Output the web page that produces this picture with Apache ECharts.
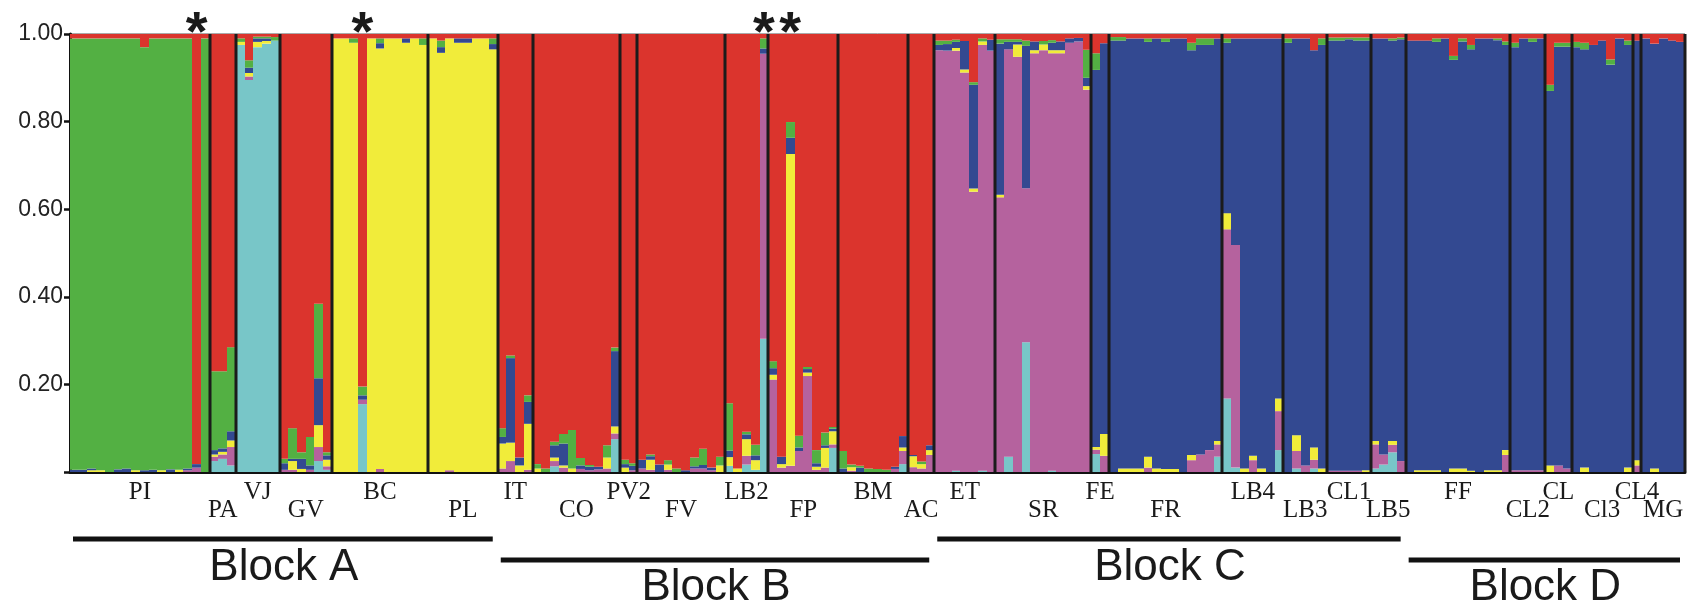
<!DOCTYPE html>
<html><head><meta charset="utf-8">
<script src="https://cdn.jsdelivr.net/npm/echarts@6/dist/echarts.min.js"></script>
<style>html,body{margin:0;padding:0;background:#fff}#c{width:1701px;height:611px}</style>
</head><body><div id="c"></div>
<script>
// ---------------- DATA ----------------
const populations = ['PI','PA','VJ','GV','BC','PL','IT','CO','PV2','FV','LB2','FP','BM','AC',
  'ET','SR','FE','FR','LB4','LB3','CL1','LB5','FF','CL2','CL','Cl3','CL4','MG'];
const popSizes = [16,3,5,6,11,8,4,10,2,10,5,8,8,3,7,11,2,13,7,5,5,4,12,4,3,7,1,5];
const blockNames = ['Block A','Block B','Block C','Block D'];
const blockFirstPop = [0,6,14,22];
const blockLastPop = [5,13,21,27];
const asteriskIndividuals = [14,33,79,82];
const yTickValues = [0.2,0.4,0.6,0.8,1.0];

// Cluster membership per individual (stack order bottom -> top)
const cyan = [
 /*PI*/0,0,0,0,0,0,0,0,0,0,0,0,0,0,0,0,
 /*PA*/0.025,0.03,0.015,
 /*VJ*/0.975,0.895,0.97,0.978,0.985,
 /*GV*/0,0,0,0,0.025,0.005,
 /*BC*/0,0,0,0.155,0,0,0,0,0,0,0,
 /*PL*/0,0,0,0,0,0,0,0,
 /*IT*/0,0,0,0,
 /*CO*/0,0,0.013,0,0,0,0,0,0,0.075,
 /*PV2*/0,0,
 /*FV*/0,0,0,0,0,0,0,0,0,0,
 /*LB2*/0.014,0,0.017,0.005,0.304,
 /*FP*/0,0,0,0,0,0,0,0.055,
 /*BM*/0,0,0,0,0,0,0,0.018,
 /*AC*/0,0,0,
 /*ET*/0,0,0.003,0,0,0.003,0,
 /*SR*/0,0.035,0,0.296,0,0,0.003,0,0,0,0,
 /*FE*/0.041,0,
 /*FR*/0,0,0,0,0,0,0,0,0,0,0,0,0.035,
 /*LB4*/0.168,0.01,0,0,0,0,0.05,
 /*LB3*/0,0.008,0,0.008,0,
 /*CL1*/0,0,0,0,0,
 /*LB5*/0.008,0.017,0.045,0,
 /*FF*/0,0,0,0,0,0,0,0,0,0,0,0,
 /*CL2*/0,0,0,0,
 /*CL*/0,0,0,
 /*Cl3*/0,0,0,0,0,0,0,
 /*CL4*/0,
 /*MG*/0,0,0,0,0];
const purple = [
 /*PI*/0,0,0,0,0,0,0,0,0,0,0,0,0,0.004,0.01,0,
 /*PA*/0.01,0.01,0.042,
 /*VJ*/0,0.008,0,0,0,
 /*GV*/0.005,0.005,0,0.005,0.032,0.008,
 /*BC*/0,0,0,0.01,0,0.007,0,0,0,0,0,
 /*PL*/0,0,0.004,0,0,0,0,0,
 /*IT*/0.008,0.025,0,0.005,
 /*CO*/0,0,0.012,0.01,0,0.007,0.004,0.006,0.008,0.013,
 /*PV2*/0,0.004,
 /*FV*/0.008,0.005,0,0.005,0,0,0.008,0.008,0.004,0,
 /*LB2*/0,0,0.02,0,0.651,
 /*FP*/0.211,0.01,0.014,0.048,0.219,0.005,0.01,0.008,
 /*BM*/0,0.003,0,0,0,0,0.007,0.03,
 /*AC*/0.011,0.008,0.039,
 /*ET*/0.963,0.962,0.959,0.912,0.64,0.972,0.962,
 /*SR*/0.627,0.93,0.948,0.352,0.956,0.963,0.953,0.956,0.98,0.983,0.873,
 /*FE*/0.01,0.037,
 /*FR*/0,0,0,0,0.01,0,0,0,0,0.027,0.04,0.05,0.028,
 /*LB4*/0.386,0.508,0,0.027,0,0,0.089,
 /*LB3*/0,0.04,0.015,0.02,0,
 /*CL1*/0.003,0.003,0.003,0.003,0,
 /*LB5*/0.055,0.023,0.017,0.025,
 /*FF*/0,0,0,0,0,0,0,0,0,0,0,0.039,
 /*CL2*/0.004,0.004,0.004,0.004,
 /*CL*/0,0.015,0.008,
 /*Cl3*/0,0,0,0,0,0,0,
 /*CL4*/0.015,
 /*MG*/0,0,0,0,0];
const yellow = [
 /*PI*/0,0,0.004,0.004,0,0,0,0.004,0,0,0.004,0,0.005,0,0,0,
 /*PA*/0.005,0.006,0.015,
 /*VJ*/0.007,0.008,0.012,0.006,0,
 /*GV*/0,0.02,0.007,0,0.05,0.015,
 /*BC*/0.99,0.99,0.98,0,0.99,0.96,0.99,0.99,0.98,0.99,0.975,
 /*PL*/0.99,0.957,0.986,0.98,0.98,0.99,0.99,0.965,
 /*IT*/0.057,0.042,0.015,0.105,
 /*CO*/0.008,0,0.008,0.005,0.008,0,0,0,0.025,0.016,
 /*PV2*/0.01,0,
 /*FV*/0,0.023,0,0.012,0,0,0,0,0,0.015,
 /*LB2*/0.02,0.008,0.038,0.022,0,
 /*FP*/0.011,0.008,0.712,0,0.008,0.007,0.045,0.03,
 /*BM*/0,0.008,0,0,0,0,0,0.008,
 /*AC*/0.025,0.01,0.011,
 /*ET*/0,0,0.006,0.007,0.007,0.008,0,
 /*SR*/0.006,0,0.028,0,0.007,0.013,0.007,0.007,0,0,0.008,
 /*FE*/0.006,0.05,
 /*FR*/0,0.008,0.008,0.008,0.025,0.008,0.007,0.007,0,0.012,0,0,0.008,
 /*LB4*/0.037,0,0.008,0.01,0.008,0,0.029,
 /*LB3*/0,0.036,0,0.028,0.008,
 /*CL1*/0,0,0,0,0.004,
 /*LB5*/0.008,0,0.009,0,
 /*FF*/0,0.004,0.004,0.004,0,0.008,0.008,0.003,0,0.004,0.004,0.011,
 /*CL2*/0,0,0,0,
 /*CL*/0.015,0,0,
 /*Cl3*/0,0.01,0,0,0,0,0.01,
 /*CL4*/0.012,
 /*MG*/0,0.008,0,0,0];
const blue = [
 /*PI*/0.005,0.005,0.004,0,0,0.006,0.008,0,0.004,0.005,0,0.006,0,0.004,0.008,0,
 /*PA*/0.01,0.008,0.021,
 /*VJ*/0,0.012,0.008,0.006,0,
 /*GV*/0.015,0.005,0.023,0.01,0.107,0.01,
 /*BC*/0,0,0,0.01,0,0.012,0,0,0.01,0,0,
 /*PL*/0,0.013,0,0.01,0.01,0,0,0.012,
 /*IT*/0.015,0.193,0.018,0.05,
 /*CO*/0,0,0.028,0.05,0,0.008,0.008,0.006,0,0.172,
 /*PV2*/0.008,0.01,
 /*FV*/0.02,0.008,0.017,0,0,0.004,0.005,0.008,0.006,0,
 /*LB2*/0.015,0,0.011,0.011,0.012,
 /*FP*/0.015,0.017,0.037,0.008,0.008,0.008,0.006,0.006,
 /*BM*/0.008,0,0.01,0,0,0,0.005,0.026,
 /*AC*/0.003,0,0.011,
 /*ET*/0.012,0.015,0.014,0.065,0.237,0,0.025,
 /*SR*/0.345,0.017,0.006,0.325,0.02,0,0.017,0.02,0.01,0.008,0.019,
 /*FE*/0.861,0.892,
 /*FR*/0.985,0.977,0.982,0.982,0.947,0.982,0.975,0.983,0.99,0.924,0.935,0.925,0.919,
 /*LB4*/0.389,0.472,0.982,0.953,0.982,0.99,0.822,
 /*LB3*/0.98,0.906,0.975,0.907,0.967,
 /*CL1*/0.982,0.982,0.985,0.982,0.981,
 /*LB5*/0.919,0.95,0.914,0.963,
 /*FF*/0.985,0.981,0.981,0.978,0.99,0.933,0.975,0.962,0.99,0.986,0.982,0.925,
 /*CL2*/0.966,0.986,0.978,0.986,
 /*CL*/0.855,0.956,0.963,
 /*Cl3*/0.97,0.955,0.975,0.985,0.93,0.99,0.965,
 /*CL4*/0.958,
 /*MG*/0.99,0.97,0.99,0.985,0.982];
const green = [
 /*PI*/0.985,0.985,0.982,0.986,0.99,0.984,0.982,0.986,0.966,0.985,0.986,0.984,0.985,0.982,0,0.99,
 /*PA*/0.18,0.176,0.192,
 /*VJ*/0.008,0.017,0.004,0.004,0.008,
 /*GV*/0.01,0.07,0.015,0.065,0.17,0.007,
 /*BC*/0,0,0.01,0.02,0,0.011,0,0,0,0,0.015,
 /*PL*/0,0.015,0,0,0,0,0,0.013,
 /*IT*/0.02,0.006,0,0.015,
 /*CO*/0.01,0.008,0.008,0.022,0.088,0.017,0.004,0,0.028,0.008,
 /*PV2*/0.01,0.006,
 /*FV*/0,0.004,0,0.01,0.008,0,0.02,0.037,0,0.02,
 /*LB2*/0.108,0,0.006,0.024,0.023,
 /*FP*/0.016,0,0.036,0.027,0.005,0.03,0.029,0.004,
 /*BM*/0.04,0.006,0.004,0.008,0.007,0.005,0,0,
 /*AC*/0,0.006,0,
 /*ET*/0.01,0.008,0.005,0,0.006,0.007,0,
 /*SR*/0.01,0.006,0.006,0.012,0,0.008,0.006,0,0,0,0.064,
 /*FE*/0.038,0,
 /*FR*/0.008,0.008,0,0,0.008,0,0.008,0,0,0.017,0.015,0.015,0,
 /*LB4*/0.01,0,0,0,0,0,0,
 /*LB3*/0.01,0,0,0,0.015,
 /*CL1*/0.007,0.007,0.004,0.007,0.007,
 /*LB5*/0,0,0.005,0.004,
 /*FF*/0,0,0,0.008,0,0.009,0.007,0.01,0,0,0.004,0.008,
 /*CL2*/0.01,0,0.008,0,
 /*CL*/0.014,0.009,0.009,
 /*Cl3*/0.012,0.015,0,0,0.012,0,0.01,
 /*CL4*/0,
 /*MG*/0,0,0,0,0];
const red = [
 /*PI*/0.01,0.01,0.01,0.01,0.01,0.01,0.01,0.01,0.03,0.01,0.01,0.01,0.01,0.01,0.982,0.01,
 /*PA*/0.77,0.77,0.715,
 /*VJ*/0.01,0.06,0.006,0.006,0.007,
 /*GV*/0.97,0.9,0.955,0.92,0.616,0.955,
 /*BC*/0.01,0.01,0.01,0.805,0.01,0.01,0.01,0.01,0.01,0.01,0.01,
 /*PL*/0.01,0.015,0.01,0.01,0.01,0.01,0.01,0.01,
 /*IT*/0.9,0.734,0.967,0.825,
 /*CO*/0.982,0.992,0.931,0.913,0.904,0.968,0.984,0.988,0.939,0.716,
 /*PV2*/0.972,0.98,
 /*FV*/0.972,0.96,0.983,0.973,0.992,0.996,0.967,0.947,0.99,0.965,
 /*LB2*/0.843,0.992,0.908,0.938,0.01,
 /*FP*/0.747,0.965,0.201,0.917,0.76,0.95,0.91,0.897,
 /*BM*/0.952,0.983,0.986,0.992,0.993,0.995,0.988,0.918,
 /*AC*/0.961,0.976,0.939,
 /*ET*/0.015,0.015,0.013,0.016,0.11,0.01,0.013,
 /*SR*/0.012,0.012,0.012,0.015,0.017,0.016,0.014,0.017,0.01,0.009,0.036,
 /*FE*/0.044,0.021,
 /*FR*/0.007,0.007,0.01,0.01,0.01,0.01,0.01,0.01,0.01,0.02,0.01,0.01,0.01,
 /*LB4*/0.01,0.01,0.01,0.01,0.01,0.01,0.01,
 /*LB3*/0.01,0.01,0.01,0.037,0.01,
 /*CL1*/0.008,0.008,0.008,0.008,0.008,
 /*LB5*/0.01,0.01,0.01,0.008,
 /*FF*/0.015,0.015,0.015,0.01,0.01,0.05,0.01,0.025,0.01,0.01,0.01,0.017,
 /*CL2*/0.02,0.01,0.01,0.01,
 /*CL*/0.116,0.02,0.02,
 /*Cl3*/0.018,0.02,0.025,0.015,0.058,0.01,0.015,
 /*CL4*/0.015,
 /*MG*/0.01,0.022,0.01,0.015,0.018];

// ---------------- LAYOUT / STYLE ----------------
const clusters = [
  {name:'K1', values:cyan,   color:'#78C6C8'},
  {name:'K2', values:purple, color:'#B5629E'},
  {name:'K3', values:yellow, color:'#F1EC3A'},
  {name:'K4', values:blue,   color:'#334991'},
  {name:'K5', values:green,  color:'#53B043'},
  {name:'K6', values:red,    color:'#DB342D'}
];
const N = popSizes.reduce((a,b)=>a+b,0);
const popStart = [];
let acc = 0;
popSizes.forEach(s => { popStart.push(acc); acc += s; });
const popEnd = popStart.map((s,i)=>s+popSizes[i]);

const chart = echarts.init(document.getElementById('c'), null, {renderer:'canvas'});

// stacked membership bars (one custom series per cluster, stacked in the fixed order above)
const barSeries = clusters.map((c, k) => ({
  type:'custom', name:c.name, xAxisIndex:0, yAxisIndex:0, z:2, silent:true,
  data:c.values.map((v,i)=>[i, v]),
  renderItem:(params, api) => {
    const i = api.value(0), v = api.value(1);
    if (!(v > 0)) return null;
    let base = 0;
    for (let j = 0; j < k; j++) base += clusters[j].values[i];
    const top = Math.min(base + v, 1);
    const xa = Math.round(api.coord([i, 0])[0]);
    const xb = Math.round(api.coord([i + 1, 0])[0]);
    const ya = api.coord([i, base])[1];
    const yb = api.coord([i, top])[1];
    return {type:'rect', shape:{x:xa, y:yb, width:xb - xa, height:ya - yb},
      style:{fill:c.color}};
  }
}));

const sepSeries = {
  type:'custom', xAxisIndex:0, yAxisIndex:0, z:5, clip:false, silent:true,
  data: popEnd.map(b => [b, 1]),
  renderItem:(params, api) => {
    const p0 = api.coord([api.value(0), 0]);
    const p1 = api.coord([api.value(0), 1]);
    const x = Math.round(p0[0]);
    return {type:'line', shape:{x1:x, y1:p0[1], x2:x, y2:p1[1]},
      style:{stroke:'#1b1b1b', lineWidth:3}};
  }
};

const labelSeries = {
  type:'custom', xAxisIndex:0, yAxisIndex:0, z:5, clip:false, silent:true,
  data: populations.map((p,i)=>[popStart[i], popEnd[i]]),
  renderItem:(params, api) => {
    const i = params.dataIndex;
    const a = api.coord([api.value(0), 0]);
    const b = api.coord([api.value(1), 0]);
    const lower = i % 2 === 1;
    return {type:'text', x:(a[0]+b[0])/2, y:a[1] + (lower ? 38.5 : 20.5),
      style:{text:populations[i], font:'25px "Liberation Serif", "Times New Roman", serif',
        fill:'#1a1a1a', align:'center', verticalAlign:'middle'}};
  }
};

const blockSeries = {
  type:'custom', xAxisIndex:0, yAxisIndex:0, z:5, clip:false, silent:true,
  data: blockNames.map((n,i)=>[popStart[blockFirstPop[i]], popEnd[blockLastPop[i]]]),
  renderItem:(params, api) => {
    const i = params.dataIndex;
    const a = api.coord([api.value(0), 0]);
    const b = api.coord([api.value(1), 0]);
    const lower = i % 2 === 1;
    const ly = a[1] + (lower ? 88 : 67);
    const ty = a[1] + (lower ? 116 : 96);
    return {type:'group', children:[
      {type:'line', shape:{x1:a[0]+3, y1:ly, x2:b[0]-5, y2:ly}, style:{stroke:'#111', lineWidth:5}},
      {type:'text', x:(a[0]+b[0])/2, y:ty,
        style:{text:blockNames[i], font:'44px "Liberation Sans", Arial, sans-serif', fill:'#1a1a1a',
          align:'center', verticalAlign:'middle'}}
    ]};
  }
};

const starSeries = {
  type:'custom', xAxisIndex:0, yAxisIndex:0, z:5, clip:false, silent:true,
  data: asteriskIndividuals.map(i => [i + 0.5, 1]),
  renderItem:(params, api) => {
    const p = api.coord([api.value(0), api.value(1)]);
    return {type:'text', x:p[0], y:p[1] + 1,
      style:{text:'*', font:'bold 56px "Liberation Sans", Arial, sans-serif', fill:'#1a1a1a',
        align:'center', verticalAlign:'middle'}};
  }
};

chart.setOption({
  animation:false,
  backgroundColor:'#ffffff',
  grid:{left:70, right:16, top:34, bottom:139, show:true, borderColor:'#555', borderWidth:1, backgroundColor:'#fff'},
  xAxis:{type:'value', min:0, max:N,
    axisLine:{show:true, onZero:false, lineStyle:{color:'#111', width:3}}, axisTick:{show:false},
    axisLabel:{show:false}, splitLine:{show:false}},
  yAxis:{type:'value', min:0, max:1, interval:0.2,
    axisLine:{show:true, lineStyle:{color:'#111', width:3}},
    axisTick:{show:true, length:6, lineStyle:{color:'#111', width:2.5}},
    axisLabel:{margin:7, color:'#222', fontSize:23, fontFamily:'"Liberation Sans", Arial, sans-serif',
      formatter: v => yTickValues.some(t => Math.abs(t - v) < 1e-9) ? v.toFixed(2) : ''},
    splitLine:{show:false}},
  series:[...barSeries, sepSeries, labelSeries, blockSeries, starSeries]
});
</script>
</body></html>
